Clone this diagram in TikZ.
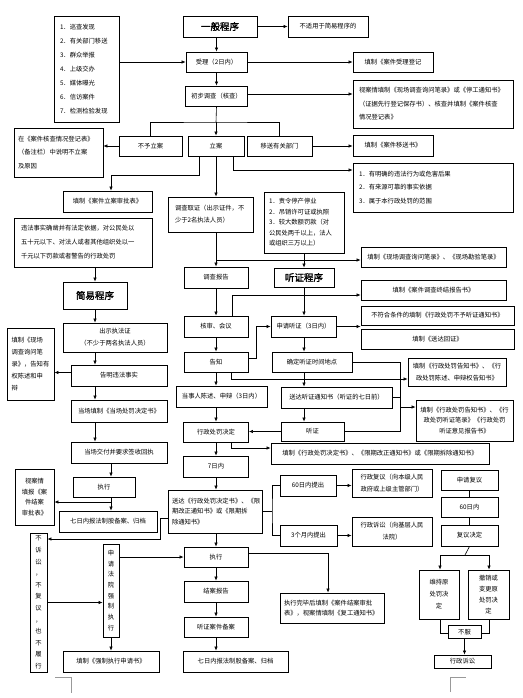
\documentclass[tikz,border=0pt]{standalone}
\usepackage{fontspec}
\newfontfamily\cjk{Noto Sans CJK SC}
\newfontfamily\cjkb[FakeBold=2]{Noto Sans CJK SC}
\usetikzlibrary{arrows.meta}
\newcommand\fa{\cjk\fontsize{6.3}{10.5}\selectfont}
\newcommand\fb{\cjk\fontsize{6.3}{13.5}\selectfont}
\newcommand\fc{\cjk\fontsize{6.3}{12}\selectfont}
\newcommand\fv{\cjk\fontsize{6.3}{11.6}\selectfont}
\newcommand\fw{\cjk\fontsize{6.3}{10.8}\selectfont}
\newcommand\ft{\cjkb\fontsize{9.5}{11}\selectfont}
\tikzset{
  box/.style={draw, line width=0.8pt, inner sep=0pt, align=center, font=\fa},
  arr/.style={-{Latex[length=4pt,width=3.4pt]}, line width=0.6pt},
  ln/.style={line width=0.6pt},
  cornermark/.style={draw=black!40, line width=0.6pt}
}
\begin{document}
\begin{tikzpicture}[x=1pt,y=-1pt]
\fill[white] (0,0) rectangle (522,698);
\useasboundingbox (0,0) rectangle (522,698);

% ---------- top ----------
\node[box, align=left, text width=53pt, minimum width=65pt, minimum height=106pt, font=\cjk\fontsize{6.3}{14}\selectfont] (list) at (86.5,69) {1．巡查发现\\2．有关部门移送\\3．群众举报\\4．上级交办\\5．媒体曝光\\6．信访案件\\7．检测检验发现};
\node[box, font=\ft, minimum width=74pt, minimum height=21pt] (gen) at (220,26.5) {一般程序};
\node[box, minimum width=80pt, minimum height=21pt] (nosimple) at (328,26.5) {不适用于简易程序的};
\node[box, minimum width=61pt, minimum height=20pt] (accept) at (216.5,62) {受理（2日内）};
\node[box, minimum width=80pt, minimum height=20pt] (reg) at (393,62) {填制《案件受理登记};
\node[box, minimum width=62pt, minimum height=20pt] (prelim) at (216.5,96) {初步调查（核查）};
\node[box, font=\fb, align=left, text width=148pt, minimum width=160pt, minimum height=48pt] (viewc) at (433,104) {视案情填制《现场调查询问笔录》或《停工通知书》\\（证据先行登记保存书）、核查并填制《案件核查\\情况登记表》};
\node[box, minimum width=63pt, minimum height=20pt] (noreg) at (150.5,146) {不予立案};
\node[box, minimum width=56pt, minimum height=20pt] (lian) at (216,146) {立案};
\node[box, minimum width=65pt, minimum height=20pt] (transfer) at (279.5,146) {移送有关部门};
\node[box, font=\fb, align=left, text width=81pt, minimum width=89pt, minimum height=49pt] (reason) at (58.5,152.5) {在《案件核查情况登记表》\\（备注栏）中说明不立案\\及原因};
\node[box, minimum width=80pt, minimum height=21pt] (transbook) at (393,145.5) {填制《案件移送书》};
\node[box, font=\cjk\fontsize{6.3}{13.3}\selectfont, align=left, text width=148pt, minimum width=160pt, minimum height=49pt] (cond) at (433,187.5) {1．有明确的违法行为或危害后果\\2．有来源可靠的事实依据\\3．属于本行政处罚的范围};

% ---------- middle ----------
\node[box, minimum width=89pt, minimum height=21pt] (approve) at (107.5,201.5) {填制《案件立案审批表》};
\node[box, font=\fc, align=left, text width=71pt, minimum width=85pt, minimum height=35pt] (invest) at (210.5,214.5) {调查取证（出示证件，不\\少于2名执法人员）};
\node[box, align=left, text width=70pt, minimum width=80pt, minimum height=61pt] (heavy) at (304,222.5) {1．责令停产停业\\2．吊销许可证或执照\\3．较大数额罚款（对\\公民处两千以上，法人\\或组织三万以上）};
\node[box, minimum width=145pt, minimum height=20pt] (scene) at (433.5,257) {填制《现场调查询问笔录》、《现场勘验笔录》};
\node[box, minimum width=64pt, minimum height=21pt] (report) at (216,277.5) {调查报告};
\node[box, font=\ft, minimum width=60pt, minimum height=19pt] (hearing) at (304,277.5) {听证程序};
\node[box, minimum width=145pt, minimum height=20pt] (endrep) at (433.5,290) {填制《案件调查终结报告书》};
\node[box, minimum width=64pt, minimum height=21pt] (review) at (216,326.5) {核审、会议};
\node[box, minimum width=65pt, minimum height=21pt] (apply) at (303.5,326.5) {申请听证（3日内）};
\node[box, minimum width=153pt, minimum height=19pt] (nohear) at (437.5,315.5) {不符合条件的填制《行政处罚不予听证通知书》};
\node[box, minimum width=153pt, minimum height=20pt] (serve) at (437.5,339) {填制《送达回证》};
\node[box, minimum width=64pt, minimum height=20pt] (inform) at (216,362) {告知};
\node[box, minimum width=80pt, minimum height=20pt] (fixtime) at (312,362) {确定听证时间地点};
\node[box, font=\fc, minimum width=98pt, minimum height=28pt] (informbook) at (457,372) {填制《行政处罚告知书》、《行\\政处罚陈述、申辩权告知书》};
\node[box, minimum width=91pt, minimum height=21pt] (state) at (221.5,396.5) {当事人陈述、申辩（3日内）};
\node[box, minimum width=111pt, minimum height=21pt] (notice) at (336.5,397.5) {送达听证通知书（听证的七日前）};
\node[box, minimum width=97pt, minimum height=41pt] (hearbook) at (464.5,420.5) {填制《行政处罚告知书》、《行\\政处罚听证笔录》《行政处罚\\听证意见报告书》};
\node[box, minimum width=63pt, minimum height=19pt] (hear) at (312.5,431.5) {听证};
\node[box, minimum width=65pt, minimum height=20pt] (decide) at (216,432) {行政处罚决定};
\node[box, minimum width=218pt, minimum height=21pt] (decbook) at (380,453.5) {填制《行政处罚决定书》、《限期改正通知书》或《限期拆除通知书》};
\node[box, minimum width=65pt, minimum height=21pt] (seven) at (216,466.5) {7日内};
\node[box, align=left, text width=86pt, minimum width=94pt, minimum height=43pt] (deliver) at (215,511.5) {送达《行政处罚决定书》、《限\\期改正通知书》或《限期拆\\除通知书》};
\node[box, minimum width=56pt, minimum height=21pt] (sixty) at (308,485.5) {60日内提出};
\node[box, minimum width=57pt, minimum height=21pt] (three) at (308.5,535.5) {3个月内提出};
\node[box, font=\fc, minimum width=80pt, minimum height=28pt] (recons) at (392,483) {行政复议（向本级人民\\政府或上级主管部门）};
\node[box, font=\fc, minimum width=80pt, minimum height=29pt] (suit) at (392,531.5) {行政诉讼（向基层人民\\法院）};
\node[box, minimum width=57pt, minimum height=20pt] (applyrec) at (469.5,480) {申请复议};
\node[box, minimum width=57pt, minimum height=20pt] (sixtyd) at (469.5,507) {60日内};
\node[box, minimum width=57pt, minimum height=21pt] (recdec) at (469.5,535.5) {复议决定};
\node[box, font=\fc, minimum width=40pt, minimum height=49pt] (keep) at (439,594.5) {维持原\\处罚决\\定};
\node[box, font=\fw, minimum width=41pt, minimum height=49pt] (revoke) at (488.5,594.5) {撤销或\\变更原\\处罚决\\定};
\node[box, minimum width=33pt, minimum height=12.5pt] (refuse) at (464.5,632) {不服};
\node[box, minimum width=57pt, minimum height=13pt] (litig) at (462.5,661.5) {行政诉讼};

% ---------- left column ----------
\node[box, font=\cjk\fontsize{6.3}{14}\selectfont, align=left, text width=124pt, minimum width=138pt, minimum height=49pt] (simplecond) at (83,242.5) {违法事实确凿并有法定依据，对公民处以\\五十元以下、对法人或者其他组织处以一\\千元以下罚款或者警告的行政处罚};
\node[box, font=\ft, minimum width=64pt, minimum height=27pt] (simple) at (95,295.5) {简易程序};
\node[box, font=\fc, minimum width=104pt, minimum height=29pt] (showid) at (115,337.5) {出示执法证\\（不少于两名执法人员）};
\node[box, font=\fc, align=left, text width=38pt, minimum width=47pt, minimum height=72pt] (leftrec) at (30.5,364) {填制《现场\\调查询问笔\\录》，告知有\\权陈述和申\\辩};
\node[box, minimum width=96pt, minimum height=21pt] (tellfact) at (119,375.5) {告明违法事实};
\node[box, minimum width=96pt, minimum height=22pt] (spotdec) at (119,411) {当场填制《当场处罚决定书》};
\node[box, minimum width=96pt, minimum height=21pt] (handover) at (119,452.5) {当场交付并要求签收回执};
\node[box, minimum width=62pt, minimum height=20pt] (lexec) at (104,487) {执行};
\node[box, font=\fw, minimum width=39pt, minimum height=56pt] (closeap) at (34.5,497) {视案情\\填报《案\\件结案\\审批表》};
\node[box, minimum width=98pt, minimum height=21pt] (larchive) at (108,521.5) {七日内报法制股备案、归档};
\node[box, font=\fv, minimum width=17pt, minimum height=139pt] (nolit) at (38.5,602.5) {不\\诉\\讼\\，\\不\\复\\议\\，\\也\\不\\履\\行};
\node[box, font=\cjk\fontsize{6.3}{10.7}\selectfont, minimum width=16pt, minimum height=93pt] (court) at (111,590.5) {申\\请\\法\\院\\强\\制\\执\\行};
\node[box, minimum width=96pt, minimum height=21pt] (forcebook) at (111,661.5) {填制《强制执行申请书》};
\node[box, minimum width=64pt, minimum height=20pt] (mexec) at (216,557) {执行};
\node[box, minimum width=64pt, minimum height=21pt] (closerep) at (216,591.5) {结案报告};
\node[box, minimum width=64pt, minimum height=20pt] (hearfile) at (216,627) {听证案件备案};
\node[box, minimum width=105pt, minimum height=21pt] (marchive) at (235.5,661.5) {七日内报法制股备案、归档};
\node[box, align=left, text width=96pt, minimum width=104pt, minimum height=30pt] (afterexec) at (332,608) {执行完毕后填制《案件结案审批\\表》，视案情填制《复工通知书》};

% ---------- helper coordinates ----------
\coordinate (jn) at (216,122);
\coordinate (c1) at (233,170);
\coordinate (c2) at (199,175);
\coordinate (c3) at (111,175);
\coordinate (c4) at (216,260);
\coordinate (c5) at (232,295);
\coordinate (c6) at (304,0);
\coordinate (c7) at (256,358);
\coordinate (c8) at (231,379);
\coordinate (c9) at (400,407);
\coordinate (c10) at (231,448);
\coordinate (c11) at (111,502);
\coordinate (c12) at (160,518);
\coordinate (c13) at (47,539);
\coordinate (c14) at (272,511.5);
\coordinate (c15) at (465,555);
\coordinate (c16) at (440,555);
\coordinate (c17) at (489,555);
\coordinate (c18) at (440,633);
\coordinate (c19) at (489,633);
\coordinate (c20) at (328,553);

% ---------- connectors: top ----------
\draw[arr] (gen.east) -- (gen.east -| nosimple.west);
\draw[arr] (gen.south -| accept.north) -- (accept.north);
\draw[arr] (accept.west -| list.east) -- (accept.west);
\draw[arr] (accept.east) -- (reg.west);
\draw[arr] (accept.south) -- (prelim.north);
\draw[arr] ([yshift=2pt]prelim.east) -- ([yshift=2pt]prelim.east -| viewc.west);
\draw[ln] (prelim.south) -- (jn);
\draw[arr] (jn) -- (lian.north);
\draw[ln] (noreg.north) |- (jn) -| (transfer.north);
\draw[arr] (noreg.west) -- (noreg.west -| reason.east);
\draw[arr] (transfer.east) -- (transfer.east -| transbook.west);
\draw[arr] (lian.south -| c1) -- (c1) -- (c1 -| cond.west);
\draw[arr] (lian.south -| c2) -- (c2) -- (c3) -- (c3 |- approve.north);
\draw[arr] (lian.south) -- (lian.south |- invest.north);

% ---------- connectors: middle ----------
\draw[arr] (invest.south -| c4) -- (report.north);
\draw[arr] (c4) -- (c4 -| scene.west);
\draw[arr] (heavy.south) -- (hearing.north);
\draw[arr] (report.south) -- (review.north);
\draw[arr] (review.north -| c5) -- (c5) -- (c5 -| endrep.west);
\draw[arr] (hearing.south) -- (hearing.south |- apply.north);
\draw[arr] (apply.east) -- (apply.east -| nohear.west);
\draw[arr] (review.south) -- (inform.north);
\draw[arr] (inform.east |- c7) -- (c7) |- (apply.west);
\draw[arr] (apply.south -| c6) -- (fixtime.north -| c6);
\draw[arr] (inform.south -| c8) -- (c8) -- (c8 -| informbook.west);
\draw[arr] (inform.south) -- (inform.south |- state.north);
\draw[arr] (fixtime.south -| c6) -- (notice.north -| c6);
\draw[ln] (fixtime.east) -| (c9 |- hear.east) -- (hear.east);
\draw[ln] (notice.east) -- (notice.east -| c9);
\draw[arr] (c9) -- (c9 -| hearbook.west);
\draw[arr] (notice.south -| c6) -- (hear.north -| c6);
\draw[arr] (hear.west) -- (hear.west -| decide.east);
\draw[arr] (state.south -| decide.north) -- (decide.north);
\draw[arr] (decide.south -| c10) -- (c10) -- (c10 -| decbook.west);
\draw[arr] (decide.south) -- (seven.north);
\draw[arr] (seven.south) -- (seven.south |- deliver.north);
\draw[ln] (deliver.east |- c14) -- (c14);
\draw[ln] (sixty.west) -| (c14) |- (three.west);
\draw[arr] (sixty.east) -- (sixty.east -| recons.west);
\draw[arr] (three.east) -- (three.east -| suit.west);
\draw[ln] (applyrec.south) -- (sixtyd.north);
\draw[ln] (sixtyd.south) -- (recdec.north);
\draw[ln] (recdec.south) -- (c15);
\draw[ln] (c16) -- (c17);
\draw[arr] (c16) -- (c16 |- keep.north);
\draw[arr] (c17) -- (c17 |- revoke.north);
\draw[ln] (c18 |- keep.south) -- (c18) -- (c18 -| refuse.west);
\draw[ln] (c19 |- revoke.south) -- (c19) -- (c19 -| refuse.east);
\draw[arr] (refuse.south) -- (refuse.south |- litig.north);

% ---------- connectors: left ----------
\draw[arr] (simplecond.south -| simple.north) -- (simple.north);
\draw[arr] (simple.south) -- (simple.south |- showid.north);
\draw[arr] (showid.south -| simple.south) -- (tellfact.north -| simple.south);
\draw[arr] ([yshift=3pt]tellfact.west) -- ([yshift=3pt]tellfact.west -| leftrec.east);
\draw[arr] (tellfact.south -| simple.south) -- (spotdec.north -| simple.south);
\draw[arr] (spotdec.south -| simple.south) -- (handover.north -| simple.south);
\draw[arr] (handover.south -| c11) -- (lexec.north -| c11);
\draw[arr] (lexec.south -| c11) -- (larchive.north -| c11);
\draw[arr] (c11) -- (c11 -| closeap.east);
\draw[arr] (c12 -| deliver.west) -- (c12) |- (c13 -| nolit.east);
\draw[arr] (nolit.east) -- (nolit.east -| court.west);
\draw[arr] (mexec.west -| court.east) -- (mexec.west);
\draw[arr] (court.south) -- (forcebook.north);
\draw[arr] (deliver.south -| mexec.north) -- (mexec.north);
\draw[arr] (mexec.east |- c20) -- (c20) -- (c20 |- afterexec.north);
\draw[arr] (mexec.south) -- (closerep.north);
\draw[arr] (closerep.south) -- (hearfile.north);
\draw[arr] (hearfile.south) -- (hearfile.south |- marchive.north);

% ---------- page corner marks ----------
\draw[cornermark] (55,677) -- (71,677) -- (71,693);
\draw[cornermark] (450,692) -- (450,677) -- (466,677);
\end{tikzpicture}
\end{document}
